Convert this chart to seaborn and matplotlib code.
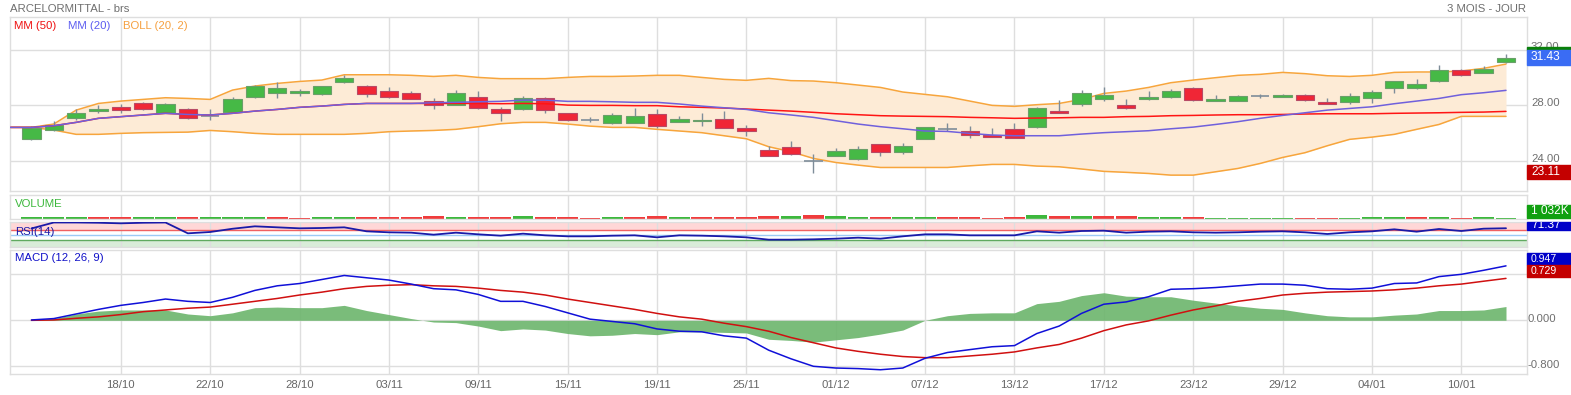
"""ArcelorMittal daily chart: candles + MM/Bollinger, volume, RSI, MACD."""
import numpy as np
import pandas as pd
import seaborn as sns
import matplotlib.pyplot as plt
from matplotlib.patches import Rectangle
from matplotlib.transforms import Bbox, TransformedBbox

W, H = 1571, 395

# ---- data ----
open_ = [25.60, 26.23, 27.11, 27.62, 27.88, 28.14, 27.47, 27.71, 27.23, 27.55,
         28.62, 28.91, 28.86, 28.79, 29.65, 29.39, 29.03, 28.86, 28.29, 28.05,
         28.57, 27.71, 27.76, 28.50, 27.43, 26.92, 26.75, 26.75, 27.35, 26.78,
         26.85, 27.02, 26.37, 24.77, 25.01, 23.98, 24.34, 24.17, 25.20, 24.67,
         25.56, 26.30, 26.13, 25.89, 26.28, 26.42, 27.57, 28.12, 28.48, 28.00,
         28.43, 28.57, 29.22, 28.34, 28.34, 28.65, 28.60, 28.72, 28.26, 28.26,
         28.55, 29.27, 29.27, 29.72, 30.51, 30.35, 31.09]
high = [26.51, 26.90, 27.74, 28.02, 28.07, 28.24, 28.19, 27.81, 27.71, 28.62,
        29.46, 29.68, 29.17, 29.40, 30.20, 29.46, 29.29, 29.03, 28.50, 29.10,
        29.03, 27.86, 28.65, 28.60, 27.43, 27.16, 27.43, 27.83, 27.76, 27.23,
        27.45, 27.59, 26.56, 25.08, 25.44, 24.48, 24.93, 25.08, 25.21, 25.27,
        26.43, 26.73, 26.52, 26.37, 26.73, 27.86, 28.38, 29.10, 29.29, 28.46,
        29.03, 29.17, 29.29, 28.74, 28.74, 28.84, 28.81, 28.79, 28.53, 28.86,
        29.10, 29.76, 29.89, 30.92, 30.63, 30.80, 31.69]
low = [25.51, 26.16, 26.95, 27.47, 27.43, 27.66, 27.43, 27.02, 26.95, 27.50,
       28.55, 28.55, 28.69, 28.78, 29.64, 28.62, 28.55, 28.43, 27.71, 28.04,
       27.77, 26.90, 27.66, 27.47, 26.85, 26.83, 26.68, 26.75, 26.37, 26.78,
       26.54, 26.35, 25.80, 24.33, 24.47, 23.11, 24.33, 24.10, 24.38, 24.53,
       25.55, 26.13, 25.68, 25.74, 25.67, 26.41, 27.42, 27.95, 28.34, 27.77,
       28.42, 28.56, 28.35, 28.29, 28.33, 28.55, 28.59, 28.35, 28.11, 28.12,
       28.19, 28.91, 29.20, 29.71, 30.08, 30.30, 31.08]
close = [26.40, 26.61, 27.43, 27.74, 27.69, 27.76, 28.07, 27.07, 27.24, 28.46,
         29.39, 29.25, 29.03, 29.39, 29.96, 28.79, 28.62, 28.43, 28.00, 28.86,
         27.78, 27.43, 28.50, 27.64, 26.92, 26.93, 27.28, 27.21, 26.49, 27.02,
         26.95, 26.35, 26.13, 24.34, 24.48, 23.99, 24.69, 24.84, 24.62, 25.05,
         26.42, 26.31, 25.84, 25.75, 25.68, 27.78, 27.43, 28.86, 28.72, 27.78,
         28.60, 29.03, 28.36, 28.48, 28.65, 28.66, 28.74, 28.36, 28.12, 28.67,
         28.96, 29.75, 29.53, 30.51, 30.20, 30.61, 31.43]

boll_up = [26.42, 26.66, 27.66, 28.14, 28.31, 28.43, 28.55, 28.50, 28.43, 29.10,
           29.39, 29.58, 29.72, 29.82, 30.20, 30.20, 30.20, 30.16, 30.08, 30.16,
           30.01, 29.92, 29.92, 29.92, 30.01, 30.08, 30.08, 30.11, 30.16, 30.16,
           30.01, 29.87, 29.80, 29.94, 29.78, 29.75, 29.63, 29.46, 29.29, 28.96,
           28.79, 28.62, 28.31, 28.00, 27.93, 28.05, 28.14, 28.43, 28.86, 29.03,
           29.29, 29.63, 29.82, 29.99, 30.16, 30.23, 30.37, 30.28, 30.13, 30.08,
           30.16, 30.37, 30.40, 30.40, 30.47, 30.66, 30.97]
boll_dn = [26.42, 26.23, 25.92, 25.92, 25.99, 26.04, 26.06, 26.08, 26.20, 26.11,
           25.99, 25.92, 25.92, 25.92, 25.92, 25.99, 26.11, 26.16, 26.20, 26.28,
           26.47, 26.68, 26.78, 26.78, 26.66, 26.51, 26.42, 26.42, 26.28, 26.16,
           26.04, 25.82, 25.60, 25.03, 24.67, 24.19, 23.90, 23.71, 23.54, 23.54,
           23.54, 23.54, 23.66, 23.76, 23.76, 23.64, 23.59, 23.43, 23.26, 23.19,
           23.11, 22.99, 22.99, 23.23, 23.47, 23.83, 24.26, 24.60, 25.10, 25.56,
           25.72, 25.92, 26.28, 26.63, 27.21, 27.21, 27.21]
mm20 = [26.42, 26.54, 26.78, 27.07, 27.19, 27.31, 27.43, 27.35, 27.31, 27.43,
        27.59, 27.71, 27.86, 27.95, 28.07, 28.14, 28.14, 28.14, 28.19, 28.22,
        28.26, 28.29, 28.38, 28.38, 28.29, 28.29, 28.26, 28.22, 28.22, 28.10,
        27.95, 27.83, 27.71, 27.47, 27.31, 27.14, 26.90, 26.66, 26.47, 26.32,
        26.16, 26.13, 25.99, 25.87, 25.82, 25.82, 25.82, 25.94, 26.04, 26.11,
        26.18, 26.32, 26.44, 26.63, 26.83, 27.07, 27.28, 27.47, 27.66, 27.78,
        27.90, 28.12, 28.31, 28.50, 28.77, 28.91, 29.08]
mm50 = [26.42, 26.54, 26.78, 27.07, 27.19, 27.31, 27.43, 27.35, 27.31, 27.43,
        27.59, 27.71, 27.86, 27.95, 28.07, 28.14, 28.14, 28.14, 28.14, 28.14,
        28.14, 28.12, 28.14, 28.12, 28.02, 28.00, 28.00, 27.98, 27.98, 27.90,
        27.86, 27.81, 27.74, 27.66, 27.59, 27.50, 27.40, 27.33, 27.26, 27.23,
        27.21, 27.19, 27.14, 27.11, 27.07, 27.09, 27.11, 27.14, 27.14, 27.19,
        27.21, 27.26, 27.28, 27.31, 27.33, 27.33, 27.35, 27.38, 27.40, 27.40,
        27.40, 27.43, 27.45, 27.47, 27.50, 27.52, 27.57]

volume_k = [1700, 1700, 1700, 2000, 2000, 1700, 1700, 2000, 1700, 1700,
            2300, 2000, 1300, 1700, 1700, 2300, 1700, 1700, 2700, 2000,
            1700, 2000, 2700, 1700, 1700, 1300, 2000, 2300, 2700, 2000,
            2000, 2000, 1700, 3300, 2700, 4000, 2700, 2000, 2000, 2000,
            2300, 2000, 2000, 1000, 2000, 4000, 3000, 3300, 3000, 2700,
            2300, 2000, 2000, 1000, 1000, 1000, 1000, 1000, 1000, 1000,
            1700, 1700, 1700, 2000, 1300, 1700, 1032]
volume_dir = list("gggrrggrgggrrggrrrrgrrgrrrgrrgrrrrgrggrggrrrrgrgrrggrggggrrgggrgrgg")

rsi = [76, 100, 100, 99, 96.7, 99, 100, 56.7, 62, 75,
       84.7, 80.7, 76.7, 78, 80.7, 64.7, 60.7, 59.3, 51.3, 59.3,
       52.7, 47.3, 55.3, 48.7, 44.7, 44.7, 47.3, 48.7, 40.7, 48.7,
       47.3, 44.7, 40.7, 31.3, 31.3, 32.7, 35.3, 39.3, 35.3, 44.7,
       52.7, 52.7, 48.7, 48.7, 48.7, 64.7, 59.3, 66, 67.3, 59.3,
       63.3, 64.7, 60.7, 59.3, 60.7, 63.3, 64.7, 60.7, 54, 60.7,
       64.7, 72.7, 63.3, 74, 66, 75.3, 77]

macd = [0.006, 0.03, 0.11, 0.19, 0.26, 0.31, 0.37, 0.33, 0.31, 0.40,
        0.52, 0.60, 0.64, 0.71, 0.78, 0.74, 0.70, 0.63, 0.55, 0.53,
        0.45, 0.33, 0.33, 0.24, 0.13, 0.02, -0.02, -0.06, -0.15, -0.19,
        -0.20, -0.27, -0.31, -0.52, -0.67, -0.80, -0.83, -0.84, -0.86, -0.83,
        -0.66, -0.56, -0.51, -0.46, -0.44, -0.23, -0.10, 0.12, 0.28, 0.32,
        0.41, 0.54, 0.55, 0.57, 0.60, 0.63, 0.63, 0.61, 0.55, 0.54,
        0.56, 0.64, 0.65, 0.76, 0.80, 0.87, 0.947]
signal = [0.0, 0.006, 0.035, 0.06, 0.10, 0.15, 0.18, 0.21, 0.23, 0.28,
          0.33, 0.38, 0.44, 0.49, 0.55, 0.59, 0.61, 0.62, 0.60, 0.59,
          0.56, 0.52, 0.49, 0.44, 0.37, 0.31, 0.25, 0.19, 0.12, 0.06,
          0.02, -0.05, -0.11, -0.19, -0.30, -0.39, -0.48, -0.54, -0.59, -0.63,
          -0.65, -0.65, -0.62, -0.59, -0.55, -0.48, -0.42, -0.31, -0.18, -0.08,
          -0.01, 0.09, 0.18, 0.25, 0.33, 0.38, 0.44, 0.47, 0.49, 0.50,
          0.51, 0.53, 0.56, 0.60, 0.63, 0.68, 0.729]
hist = [0.0, 0.03, 0.11, 0.16, 0.18, 0.18, 0.18, 0.11, 0.08, 0.13,
        0.22, 0.23, 0.22, 0.22, 0.26, 0.17, 0.10, 0.03, -0.03, -0.04,
        -0.10, -0.18, -0.15, -0.17, -0.23, -0.27, -0.26, -0.23, -0.25, -0.20,
        -0.20, -0.21, -0.22, -0.33, -0.35, -0.38, -0.34, -0.30, -0.24, -0.17,
        0.0, 0.08, 0.12, 0.13, 0.13, 0.29, 0.33, 0.43, 0.48, 0.42,
        0.41, 0.41, 0.35, 0.30, 0.25, 0.21, 0.19, 0.13, 0.08, 0.06,
        0.06, 0.09, 0.11, 0.17, 0.17, 0.18, 0.24]

date_labels = ["18/10", "22/10", "28/10", "03/11", "09/11", "15/11", "19/11", "25/11",
               "01/12", "07/12", "13/12", "17/12", "23/12", "29/12", "04/01", "10/01"]
date_pos = [4, 8, 12, 16, 20, 24, 28, 32, 36, 40, 44, 48, 52, 56, 60, 64]

price_ticks = [24, 28, 32]
macd_ticks = [-0.8, 0.0, 0.8]

# ---- styling ----
sns.set_style("white")
plt.rcParams["font.family"] = ["Liberation Sans", "DejaVu Sans"]

GRID = "#dedede"
UP, DOWN = "#46b946", "#f02636"
UP_EDGE, DOWN_EDGE = "#6a9f6a", "#b84a66"
WICK = "#7e8d99"
XMIN, XMAX = -0.96, 66.94

df = pd.DataFrame({"o": open_, "h": high, "l": low, "c": close,
                   "up": boll_up, "dn": boll_dn, "mm20": mm20, "mm50": mm50,
                   "vol": volume_k, "vdir": volume_dir, "rsi": rsi,
                   "macd": macd, "signal": signal, "hist": hist})
df["i"] = np.arange(len(df))

fig = plt.figure(figsize=(W / 100, H / 100), dpi=100)


def px_rect(x0, y0, x1, y1):
    return [x0 / W, 1 - y1 / H, (x1 - x0) / W, (y1 - y0) / H]


def fx(x):
    return x / W


def fy(y):
    return 1 - y / H


def panel(rect, ylim):
    ax = fig.add_axes(px_rect(*rect))
    ax.set_xlim(XMIN, XMAX)
    ax.set_ylim(*ylim)
    ax.set_xticks(date_pos)
    ax.set_xticklabels([])
    ax.set_yticks([])
    ax.tick_params(length=0)
    ax.grid(axis="x", color=GRID, lw=1)
    ax.set_axisbelow(True)
    for s in ax.spines.values():
        s.set_color(GRID)
        s.set_linewidth(1)
    return ax


ax_p = panel((10, 17, 1527, 191), (21.85, 34.35))
ax_v = panel((10, 195, 1527, 219), (0, 24000))
ax_r = panel((10, 222, 1527, 247), (2, 102))
ax_m = panel((10, 250, 1527, 374), (-0.934, 1.223))

# ---- price panel ----
for t in price_ticks:
    ax_p.axhline(t, color=GRID, lw=1, zorder=0)

ext_x = np.r_[XMIN, df["i"]]


def ext(col):
    return np.r_[df[col].iloc[0], df[col]]


ax_p.fill_between(ext_x, ext("dn"), ext("up"), color="#fdebd6", lw=0, zorder=1)
for col in ["up", "dn"]:
    sns.lineplot(x=ext_x, y=ext(col), ax=ax_p, color="#f7a53c", lw=1.1, zorder=2)

ax_p.vlines(df["i"], df["l"], df["h"], color=WICK, lw=1, zorder=3)
body = (df["c"] - df["o"]).abs()
doji = body < 0.03
cnd = df[~doji]
rising = cnd["c"] > cnd["o"]
ax_p.bar(cnd["i"], cnd["c"] - cnd["o"], bottom=cnd["o"], width=0.82,
         color=np.where(rising, UP, DOWN), edgecolor=np.where(rising, UP_EDGE, DOWN_EDGE),
         lw=0.8, zorder=4)
dj = df[doji]
ax_p.hlines(dj["o"], dj["i"] - 0.41, dj["i"] + 0.41, color=WICK, lw=1.2, zorder=4)

sns.lineplot(x=ext_x, y=ext("mm50"), ax=ax_p, color="#ff1414", lw=1.1, zorder=5)
sns.lineplot(x=ext_x, y=ext("mm20"), ax=ax_p, color="#7060dc", lw=1.1, zorder=6)
ax_p.set_xlim(XMIN, XMAX)
ax_p.set_ylim(21.85, 34.35)

# ---- volume ----
ax_v.bar(df["i"], df["vol"], width=0.93,
         color=np.where(df["vdir"] == "g", "#3db83d", "#f03c3c"), lw=0, zorder=2)

# ---- RSI ----
ax_r.axhspan(70, 102, color="#ffd7d7", lw=0, zorder=0)
ax_r.axhspan(2, 30, color="#d9ecd9", lw=0, zorder=0)
ax_r.axhline(70, color="#f06060", lw=1, zorder=1)
ax_r.axhline(50, color="#9ccaf5", lw=1, zorder=1)
ax_r.axhline(30, color="#60aa60", lw=1, zorder=1)
sns.lineplot(data=df, x="i", y="rsi", ax=ax_r, color="#1a1aa8", lw=1.3, zorder=3)
ax_r.set_xlim(XMIN, XMAX)
ax_r.set_ylim(2, 102)

# ---- MACD ----
for t in macd_ticks:
    ax_m.axhline(t, color=GRID, lw=1, zorder=0)
ax_m.fill_between(df["i"], 0, df["hist"], color="#6cb56c", alpha=0.9, lw=0, zorder=1)
sns.lineplot(data=df, x="i", y="signal", ax=ax_m, color="#d01010", lw=1.1, zorder=2)
sns.lineplot(data=df, x="i", y="macd", ax=ax_m, color="#1010d8", lw=1.1, zorder=3)
ax_m.set_xlim(XMIN, XMAX)
ax_m.set_ylim(-0.934, 1.223)
for a in (ax_p, ax_v, ax_r, ax_m):
    a.set_xlabel("")
    a.set_ylabel("")
    a.set_yticks([])
ax_m.set_xticklabels(date_labels, fontsize=8.2, color="#666666")
ax_m.tick_params(axis="x", pad=4)

# ---- texts ----
TXT = "#6f6f6f"
fig.text(fx(10), fy(9), "ARCELORMITTAL - brs", fontsize=8.2, color=TXT, va="center")
fig.text(fx(1526), fy(9), "3 MOIS - JOUR", fontsize=8.2, color=TXT, va="center", ha="right")
fig.text(fx(14), fy(26), "MM (50)", fontsize=8.2, color="#ee1111", va="center")
fig.text(fx(68), fy(26), "MM (20)", fontsize=8.2, color="#5c5cf0", va="center")
fig.text(fx(123), fy(26), "BOLL (20, 2)", fontsize=8.2, color="#f5a040", va="center")
fig.text(fx(15), fy(204), "VOLUME", fontsize=8.2, color="#3cb83c", va="center")
fig.text(fx(15), fy(232), "RSI(14)", fontsize=8.2, color="#1a1aa8", va="center")
fig.text(fx(15), fy(258), "MACD (12, 26, 9)", fontsize=8.2, color="#1010c8", va="center")

for t in price_ticks:
    y = 105.33 - (t - 28) * 13.92
    fig.text(fx(1531), fy(y - 2.5), f"{t:.2f}", fontsize=8.2, color=TXT, va="center", zorder=3)
for t in macd_ticks:
    y = 320.3 - t * 57.5
    fig.text(fx(1528), fy(y - 1.5), f"{t:.3f}", fontsize=8.2, color=TXT, va="center", zorder=3)


def value_box(y0, y1, color, label, size=8.6, clip_top=None):
    fig.patches.append(Rectangle((fx(1527), fy(y1)), fx(44), (y1 - y0) / H,
                                 transform=fig.transFigure, color=color, zorder=5))
    yc = (y0 + y1) / 2 if clip_top is None else clip_top
    t = fig.text(fx(1531), fy(yc), label, fontsize=size, color="white", va="center", zorder=6)
    if clip_top is not None:
        bb = TransformedBbox(Bbox([[fx(1527), fy(y1)], [fx(1571), fy(y0)]]), fig.transFigure)
        t.set_clip_box(bb)
        t.set_clip_on(True)


fig.patches.append(Rectangle((fx(1527), fy(50)), fx(44), 3 / H,
                             transform=fig.transFigure, color="#0a800a", zorder=5))
value_box(50, 65, "#3a6cf4", str(close[-1]))
value_box(165, 179, "#c40000", f"{min(low):.2f}")
value_box(205, 218, "#10a010", "1 032K")
value_box(222, 230, "#0000c8", "71.37", clip_top=225)
value_box(253, 265, "#0000c8", f"{macd[-1]:.3f}", size=7.6)
value_box(265, 277, "#c40000", f"{signal[-1]:.3f}", size=7.6)

fig.savefig("out.png", dpi=100)
